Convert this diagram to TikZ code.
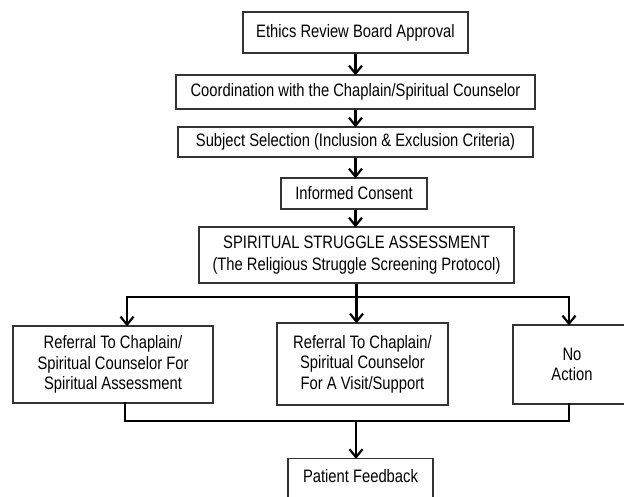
\documentclass[tikz,border=0pt]{standalone}
\usepackage{fontspec}
\setmainfont{Liberation Sans}[FakeStretch=0.82]
\usetikzlibrary{arrows.meta}
\begin{document}
\begin{tikzpicture}[x=1pt,y=-1pt,
  box/.style={draw=black!80, line width=1.2pt, fill=white, align=center, inner sep=0pt,
    font=\fontsize{18}{20.5}\selectfont},
  conn/.style={line width=2.6pt, black},
  arr/.style={conn, -{Straight Barb[length=8pt,width=13pt,line width=2.2pt]}, shorten >=-1pt}]
\useasboundingbox (0,0) rectangle (624,497);
\clip (0,0) rectangle (624,497);
\node[box, minimum width=225, minimum height=41] (ethics) at (355.5,32.5) {Ethics Review Board Approval};
\node[box, minimum width=359, minimum height=34] (coord) at (355.5,92) {Coordination with the Chaplain/Spiritual Counselor};
\node[box, minimum width=355, minimum height=30] (subj) at (355.5,142) {Subject Selection (Inclusion \& Exclusion Criteria)};
\node[box, minimum width=146, minimum height=31] (ic) at (354,193.5) {Informed Consent};
\node[box, minimum width=315, minimum height=56] (ssa) at (356.5,255) {SPIRITUAL STRUGGLE ASSESSMENT\\[1pt](The Religious Struggle Screening Protocol)};
\node[box, minimum width=200, minimum height=77] (ref1) at (113,364.5) {Referral To Chaplain/\\Spiritual Counselor For\\Spiritual Assessment};
\node[box, minimum width=171, minimum height=82] (ref2) at (362.5,364) {Referral To Chaplain/\\Spiritual Counselor\\For A Visit/Support};
\node[box, minimum width=118, minimum height=79] (noact) at (572,364.5) {No\\Action};
\node[box, minimum width=145, text height=24pt, text depth=30pt, anchor=north] (pf) at (360.5,458) {Patient Feedback};
\coordinate (t1) at (356.5,297);
\coordinate (bl) at (127,297);
\coordinate (br) at (569,297);
\coordinate (u1) at (125,421);
\coordinate (u2) at (569,421);
\coordinate (um) at (356,421);
\draw[arr] (ethics.south) -- (coord.north);
\draw[arr] (coord.south) -- (subj.north);
\draw[arr] (subj.south) -- (subj.south |- ic.north);
\draw[arr] (ic.south -| subj.south) -- (ssa.north -| subj.south);
\draw[conn] (ssa.south) -- (t1);
\draw[conn, line cap=rect] (bl) -- (br);
\draw[arr] (bl) -- (bl |- ref1.north);
\draw[arr] (t1) -- (t1 |- ref2.north);
\draw[arr] (br) -- (br |- noact.north);
\draw[conn, line cap=rect] (u1 |- ref1.south) -- (u1) -- (u2) -- (u2 |- noact.south);
\draw[arr] (um) -- (um |- pf.north);
\end{tikzpicture}
\end{document}
